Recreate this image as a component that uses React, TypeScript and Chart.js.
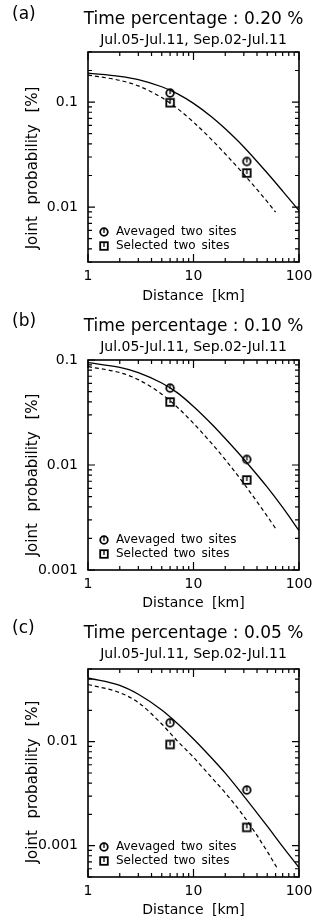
import React, { useEffect, useRef } from "react";
import { Chart, registerables } from "chart.js";

Chart.register(...registerables);

// ---- data ----
const xDist = [1, 2, 3, 5, 7, 10, 15, 20, 30, 50, 70, 100];
const xDashedAB = [1, 2, 3, 5, 7, 10, 15, 20, 30, 50, 60];
const xDashedC = [1, 2, 3, 5, 7, 10, 15, 20, 30, 50, 62];
const xSites = [6, 32];

const solidA = [0.189, 0.176, 0.164, 0.14, 0.1205, 0.0973, 0.0718, 0.0557, 0.0374, 0.0211, 0.0142, 0.00925];
const dashedA = [0.181, 0.161, 0.1426, 0.1104, 0.0873, 0.0644, 0.0435, 0.0321, 0.02056, 0.01125, 0.00895];
const avgA = [0.122, 0.0272];
const selA = [0.0986, 0.0211];

const solidB = [0.0944, 0.0851, 0.076, 0.0604, 0.0489, 0.0361, 0.0243, 0.01786, 0.01135, 0.00615, 0.00394, 0.00237];
const dashedB = [0.0865, 0.0759, 0.065, 0.0473, 0.0356, 0.0249, 0.0159, 0.01127, 0.00665, 0.00325, 0.00249];
const avgB = [0.054, 0.0113];
const selB = [0.0398, 0.0072];

const solidC = [0.041, 0.0348, 0.0286, 0.0202, 0.01507, 0.01062, 0.00689, 0.00498, 0.003, 0.00154, 0.00098, 0.000617];
const dashedC = [0.0355, 0.0296, 0.0238, 0.0148, 0.0102, 0.00708, 0.00447, 0.00322, 0.00192, 0.00088, 0.00061];
const avgC = [0.0152, 0.00343];
const selC = [0.0094, 0.0015];

const panelLabels = ["(a)", "(b)", "(c)"];
const timePercent = ["0.20", "0.10", "0.05"];
const subtitleText = "Jul.05-Jul.11, Sep.02-Jul.11";
const yTitle = "Joint probability [%]";
const xTitle = "Distance [km]";
const legendLabels = ["Avevaged two sites", "Selected two sites"];
const yMins = [0.003, 0.001, 0.0005];
const yMaxs = [0.3, 0.1, 0.05];
const xMin = 1;
const xMax = 100;

const FONT = "'DejaVu Sans', sans-serif";
const W = 321;
const H = 307;

function makeMarker(kind: "circle" | "square"): HTMLCanvasElement {
  const c = document.createElement("canvas");
  c.width = 12;
  c.height = 12;
  const g = c.getContext("2d")!;
  g.fillStyle = "#fff";
  g.strokeStyle = "#000";
  g.lineWidth = 1.8;
  if (kind === "circle") {
    g.beginPath();
    g.arc(6, 6, 3.8, 0, Math.PI * 2);
    g.fill();
    g.stroke();
  } else {
    g.fillRect(2.2, 2.2, 7.6, 7.6);
    g.strokeRect(2.2, 2.2, 7.6, 7.6);
  }
  g.lineWidth = 1.3;
  g.beginPath();
  g.moveTo(6, 3);
  g.lineTo(6, 7);
  g.stroke();
  return c;
}

const isPow10 = (v: number) => {
  const l = Math.log10(v);
  return Math.abs(l - Math.round(l)) < 1e-6;
};
const fmt = (v: number) => Number(v.toPrecision(3)).toString();

type PanelProps = {
  idx: number;
  solid: number[];
  dashedX: number[];
  dashed: number[];
  avg: number[];
  sel: number[];
  plotTop: number;
  plotBottom: number;
};

function Panel({ idx, solid, dashedX, dashed, avg, sel, plotTop, plotBottom }: PanelProps) {
  const ref = useRef<HTMLCanvasElement | null>(null);
  useEffect(() => {
    const canvas = ref.current!;
    const circ = makeMarker("circle");
    const sq = makeMarker("square");
    const yMin = yMins[idx];
    const yMax = yMaxs[idx];

    const deco = {
      id: "deco" + idx,
      afterDraw(chart: any) {
        const ctx = chart.ctx as CanvasRenderingContext2D;
        const { left, right, top, bottom } = chart.chartArea;
        const xs = chart.scales.x;
        const ys = chart.scales.y;
        ctx.save();
        ctx.strokeStyle = "#000";
        ctx.fillStyle = "#000";
        // inward ticks
        ctx.lineWidth = 1.2;
        ctx.beginPath();
        for (let e = -5; e <= 3; e++) {
          for (let k = 1; k <= 9; k++) {
            const v = k * Math.pow(10, e);
            if (v >= xMin * 0.9999 && v <= xMax * 1.0001) {
              const p = xs.getPixelForValue(v);
              const len = k === 1 ? 8 : 4;
              ctx.moveTo(p, bottom);
              ctx.lineTo(p, bottom - len);
              ctx.moveTo(p, top);
              ctx.lineTo(p, top + len);
            }
            if (v >= yMin * 0.9999 && v <= yMax * 1.0001) {
              const p = ys.getPixelForValue(v);
              const len = k === 1 ? 7 : 4;
              ctx.moveTo(left, p);
              ctx.lineTo(left + len, p);
              ctx.moveTo(right, p);
              ctx.lineTo(right - len, p);
            }
          }
        }
        ctx.stroke();
        // frame
        ctx.lineWidth = 1.6;
        ctx.strokeRect(left, top, right - left, bottom - top);

        const cx = (left + right) / 2;
        ctx.textAlign = "center";
        ctx.textBaseline = "middle";
        ctx.font = `17px ${FONT}`;
        ctx.fillText(`Time percentage : ${timePercent[idx]} %`, cx, 20);
        ctx.font = `14px ${FONT}`;
        ctx.fillText(subtitleText, cx, 40);
        ctx.font = `17px ${FONT}`;
        ctx.textAlign = "left";
        ctx.fillText(panelLabels[idx], 12, 15);

        ctx.font = `14px ${FONT}`;
        ctx.textAlign = "center";
        (ctx as any).wordSpacing = "4px";
        ctx.fillText(xTitle, cx, 296);

        ctx.save();
        ctx.font = `15px ${FONT}`;
        (ctx as any).wordSpacing = "7px";
        ctx.translate(33, 168);
        ctx.rotate(-Math.PI / 2);
        ctx.fillText(yTitle, 0, 0);
        ctx.restore();

        // legend
        ctx.font = `12px ${FONT}`;
        (ctx as any).wordSpacing = "2px";
        ctx.textAlign = "left";
        const rows = [bottom - 30, bottom - 16.5];
        ctx.drawImage(circ, 104 - 6, Math.round(rows[0]) - 6);
        ctx.drawImage(sq, 104 - 6, Math.round(rows[1]) - 6);
        ctx.fillText(legendLabels[0], 116, rows[0]);
        ctx.fillText(legendLabels[1], 116, rows[1]);
        ctx.restore();
      },
    };

    const chart = new Chart(canvas, {
      type: "line",
      data: {
        datasets: [
          {
            label: "solid",
            data: xDist.map((x, i) => ({ x, y: solid[i] })),
            borderColor: "#000",
            borderWidth: 1.3,
            pointRadius: 0,
            cubicInterpolationMode: "monotone",
            fill: false,
          },
          {
            label: "dashed",
            data: dashedX.map((x, i) => ({ x, y: dashed[i] })),
            borderColor: "#000",
            borderWidth: 1.2,
            borderDash: [4, 3],
            pointRadius: 0,
            cubicInterpolationMode: "monotone",
            fill: false,
          },
          {
            label: legendLabels[0],
            data: xSites.map((x, i) => ({ x, y: avg[i] })),
            showLine: false,
            pointStyle: circ as any,
            pointRadius: 5,
          },
          {
            label: legendLabels[1],
            data: xSites.map((x, i) => ({ x, y: sel[i] })),
            showLine: false,
            pointStyle: sq as any,
            pointRadius: 5,
          },
        ],
      },
      options: {
        responsive: false,
        animation: false,
        events: [],
        layout: { padding: { top: plotTop, right: W - 299, bottom: 0, left: 0 } },
        plugins: {
          legend: { display: false },
          tooltip: { enabled: false },
          title: { display: false },
        },
        scales: {
          x: {
            type: "logarithmic",
            min: xMin,
            max: xMax,
            grid: { display: false, drawTicks: false },
            border: { display: false },
            afterFit: (s: any) => {
              s.height = H - plotBottom;
            },
            ticks: {
              autoSkip: false,
              maxRotation: 0,
              padding: 6,
              color: "#000",
              font: { family: FONT, size: 14 },
              callback: (v: any) => (isPow10(Number(v)) ? fmt(Number(v)) : ""),
            },
          },
          y: {
            type: "logarithmic",
            min: yMin,
            max: yMax,
            grid: { display: false, drawTicks: false },
            border: { display: false },
            afterFit: (s: any) => {
              s.width = 88;
            },
            ticks: {
              autoSkip: false,
              padding: 10,
              color: "#000",
              font: { family: FONT, size: 14 },
              callback: (v: any) => (isPow10(Number(v)) ? fmt(Number(v)) : ""),
            },
          },
        },
      } as any,
      plugins: [deco],
    });
    return () => chart.destroy();
  }, []);
  return <canvas ref={ref} width={W} height={H} style={{ display: "block", width: W, height: H }} />;
}

export default function App() {
  return (
    <div style={{ position: "absolute", left: 0, top: 0, width: W, background: "#fff" }}>
      <Panel idx={0} solid={solidA} dashedX={xDashedAB} dashed={dashedA} avg={avgA} sel={selA} plotTop={52} plotBottom={262} />
      <Panel idx={1} solid={solidB} dashedX={xDashedAB} dashed={dashedB} avg={avgB} sel={selB} plotTop={53} plotBottom={263} />
      <Panel idx={2} solid={solidC} dashedX={xDashedC} dashed={dashedC} avg={avgC} sel={selC} plotTop={55} plotBottom={263} />
    </div>
  );
}
